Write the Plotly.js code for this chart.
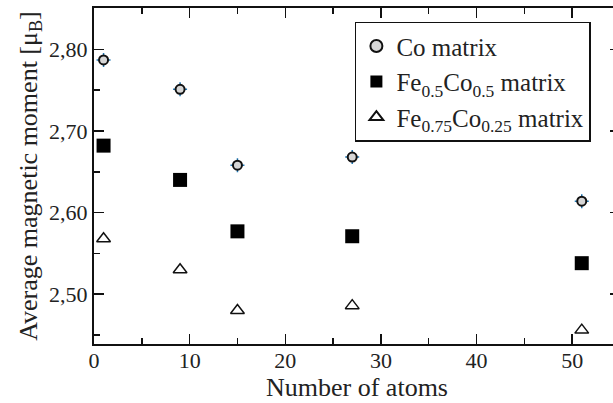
<!DOCTYPE html>
<html>
<head>
<meta charset="utf-8">
<script src="https://cdn.plot.ly/plotly-3.0.1.min.js"></script>
<style>
  html, body { margin: 0; padding: 0; overflow: hidden; background: #fff; }
  #chart { width: 630px; height: 403px; }
</style>
</head>
<body>
<div id="chart"></div>
<script>
// Cluster size (number of atoms) for each computed point
const atoms = [1, 9, 15, 27, 51];

// Average magnetic moment per atom, in Bohr magnetons
const coMatrix = [2.787, 2.751, 2.658, 2.668, 2.614];
const fe50Matrix = [2.682, 2.640, 2.577, 2.571, 2.538];
const fe75Matrix = [2.568, 2.530, 2.480, 2.486, 2.456];

const seriesNames = [
  'Co matrix',
  'Fe<sub>0.5</sub>Co<sub>0.5</sub> matrix',
  'Fe<sub>0.75</sub>Co<sub>0.25</sub> matrix'
];

const serif = "'Liberation Serif', 'Times New Roman', serif";
const ink = '#111';

const traces = [
  // small crosshair ticks behind the circles
  {
    x: atoms, y: coMatrix, type: 'scatter', mode: 'markers',
    showlegend: false, hoverinfo: 'skip',
    marker: { symbol: 'cross-thin-open', size: 10, line: { color: ink, width: 1.5 } }
  },
  {
    x: atoms, y: coMatrix, type: 'scatter', mode: 'markers', name: seriesNames[0],
    marker: { symbol: 'circle', size: 9, color: '#d6d6d6', line: { color: ink, width: 2 } }
  },
  {
    x: atoms, y: fe50Matrix, type: 'scatter', mode: 'markers', name: seriesNames[1],
    marker: { symbol: 'square', size: 14, color: '#000', line: { color: '#000', width: 0 } }
  },
  {
    x: atoms, y: fe75Matrix, type: 'scatter', mode: 'markers', name: seriesNames[2],
    marker: { symbol: 'triangle-up-open', size: 12, color: ink, line: { color: ink, width: 1.5 } }
  }
];

const axisCommon = {
  showline: true, linecolor: ink, linewidth: 2, mirror: 'ticks',
  ticks: 'inside', ticklen: 10, tickwidth: 1.5, tickcolor: ink,
  showgrid: false, zeroline: false,
  tickfont: { family: serif, size: 22, color: '#222' }
};

const layout = {
  width: 630, height: 403,
  margin: { l: 94, r: 10, t: 8, b: 59 },
  paper_bgcolor: '#fff', plot_bgcolor: '#fff',
  separators: ', ',
  font: { family: serif, color: ink },
  xaxis: Object.assign({}, axisCommon, {
    range: [0, 55], dtick: 10, tick0: 0,
    ticklabelstandoff: -4,
    minor: { dtick: 5, ticks: 'inside', ticklen: 6, tickwidth: 1.5, tickcolor: ink },
    title: { text: 'Number of atoms', font: { family: serif, size: 26, color: '#222' }, standoff: 2 }
  }),
  yaxis: Object.assign({}, axisCommon, {
    range: [2.439, 2.8506], dtick: 0.1, tick0: 2.5, tickformat: '.2f',
    minor: { dtick: 0.05, ticks: 'inside', ticklen: 6, tickwidth: 1.5, tickcolor: ink },
    title: { text: 'Average magnetic moment [μ<sub>B</sub>]', font: { family: serif, size: 26, color: '#222' }, standoff: 4 }
  }),
  legend: {
    x: 0.496, y: 0.959, xanchor: 'left', yanchor: 'top',
    bgcolor: '#fff', bordercolor: ink, borderwidth: 1.5,
    font: { family: serif, size: 25, color: '#222' },
    itemsizing: 'constant'
  },
  showlegend: true
};

Plotly.newPlot('chart', traces, layout, { staticPlot: true, displayModeBar: false });
</script>
</body>
</html>
